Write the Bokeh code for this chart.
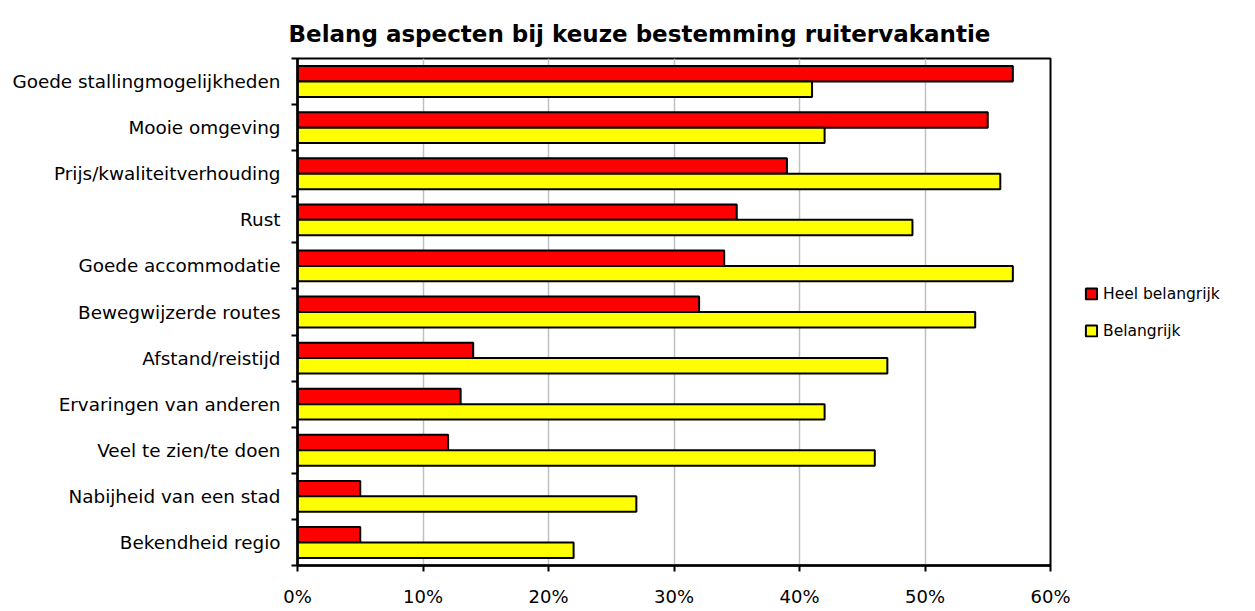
from bokeh.plotting import figure
from bokeh.models import ColumnDataSource, FixedTicker, PrintfTickFormatter, Range1d, Legend, LegendItem
from bokeh.embed import file_html
from bokeh.resources import INLINE

categories = [
    "Goede stallingmogelijkheden",
    "Mooie omgeving",
    "Prijs/kwaliteitverhouding",
    "Rust",
    "Goede accommodatie",
    "Bewegwijzerde routes",
    "Afstand/reistijd",
    "Ervaringen van anderen",
    "Veel te zien/te doen",
    "Nabijheid van een stad",
    "Bekendheid regio",
]
heel_belangrijk = [57, 55, 39, 35, 34, 32, 14, 13, 12, 5, 5]
belangrijk = [41, 42, 56, 49, 57, 54, 47, 42, 46, 27, 22]
x_ticks = [0, 10, 20, 30, 40, 50, 60]

n = len(categories)
centers = [n - i - 0.5 for i in range(n)]
bar_h = 0.335

src_red = ColumnDataSource(dict(y=[c + bar_h / 2 for c in centers], right=heel_belangrijk))
src_yel = ColumnDataSource(dict(y=[c - bar_h / 2 for c in centers], right=belangrijk))

FONT = "DejaVu Sans"

p = figure(frame_width=753, frame_height=507, output_backend="svg", toolbar_location=None,
           x_range=Range1d(0, 60), y_range=Range1d(0, n),
           min_border_left=297, min_border_right=20, min_border_top=58, min_border_bottom=40,
           title="Belang aspecten bij keuze bestemming ruitervakantie")

p.title.text_font = FONT
p.title.text_font_size = "23px"
p.title.text_font_style = "bold"
p.title.align = "left"
p.title.offset = -9
p.title.standoff = 23
p.title.text_color = "black"

r1 = p.hbar(y="y", left=0, right="right", height=bar_h, source=src_red,
            fill_color="#ff0000", line_color="black", line_width=2)
r2 = p.hbar(y="y", left=0, right="right", height=bar_h, source=src_yel,
            fill_color="#ffff00", line_color="black", line_width=2)

# x axis
p.xaxis.ticker = FixedTicker(ticks=x_ticks)
p.xaxis.formatter = PrintfTickFormatter(format="%d%%")
p.xaxis.axis_line_width = 2.5
p.xaxis.axis_line_color = "black"
p.xaxis.major_tick_line_width = 2
p.xaxis.major_tick_line_color = "black"
p.xaxis.major_tick_out = 6
p.xaxis.major_tick_in = 0
p.xaxis.minor_tick_line_color = None
p.xaxis.major_label_text_font = FONT
p.xaxis.major_label_text_font_size = "18px"
p.xaxis.major_label_text_color = "black"
p.xaxis.major_label_standoff = 14

# y axis
p.yaxis.ticker = FixedTicker(ticks=centers, minor_ticks=list(range(n + 1)))
p.yaxis.major_label_overrides = {c: lab for c, lab in zip(centers, categories)}
p.yaxis.axis_line_width = 2.5
p.yaxis.axis_line_color = "black"
p.yaxis.major_tick_line_color = None
p.yaxis.minor_tick_line_color = "black"
p.yaxis.minor_tick_line_width = 2
p.yaxis.minor_tick_out = 6
p.yaxis.minor_tick_in = 0
p.yaxis.major_label_text_font = FONT
p.yaxis.major_label_text_font_size = "18.4px"
p.yaxis.major_label_text_color = "black"
p.yaxis.major_label_standoff = 11

p.xgrid.ticker = FixedTicker(ticks=x_ticks)
p.xgrid.grid_line_color = "#c0c0c0"
p.xgrid.grid_line_width = 1.5
p.ygrid.grid_line_color = None

p.outline_line_color = "black"
p.outline_line_width = 2
p.background_fill_color = "white"
p.border_fill_color = "white"

legend = Legend(items=[LegendItem(label="Heel belangrijk", renderers=[r1]),
                       LegendItem(label="Belangrijk", renderers=[r2])],
                location="center_left")
legend.border_line_color = None
legend.background_fill_alpha = 0
legend.glyph_width = 14
legend.glyph_height = 14
legend.label_text_font = FONT
legend.label_text_font_size = "15.5px"
legend.label_text_color = "black"
legend.label_standoff = 5
legend.spacing = 17
legend.padding = 0
legend.margin = 34
legend.label_height = 20
p.add_layout(legend, "right")

open("out.html", "w").write(file_html(p, INLINE))
